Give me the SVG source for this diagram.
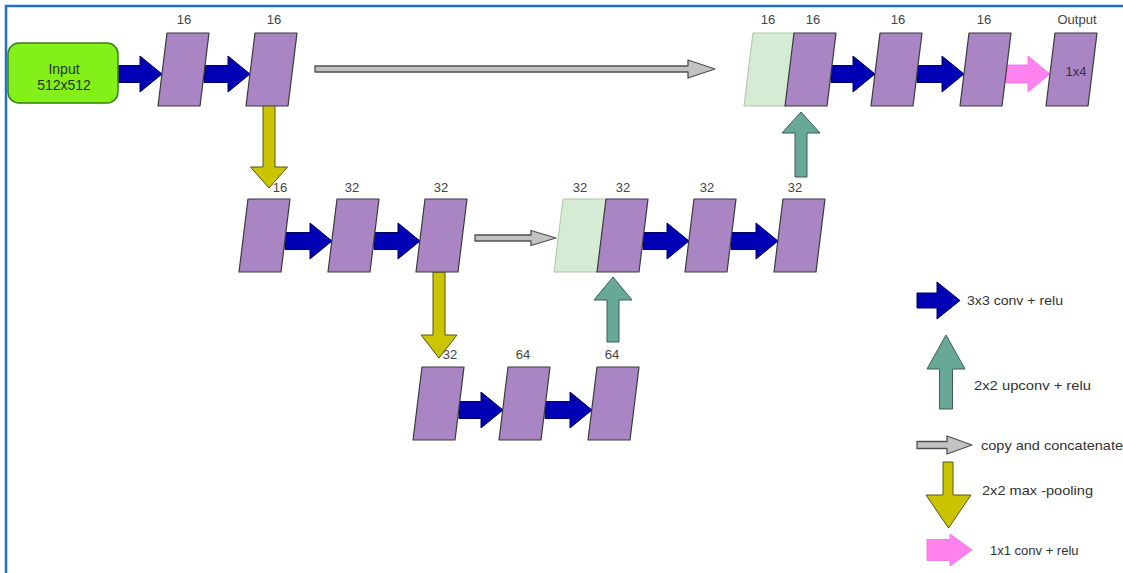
<svg xmlns="http://www.w3.org/2000/svg" width="1123" height="573" viewBox="0 0 1123 573">
  <style>
    text { font-family: "Liberation Sans", Arial, sans-serif; }
    .blk { fill: #a985c4; stroke: #3a3a3a; stroke-width: 1.2; stroke-linejoin: round; }
    .cat { fill: #d6ebd3; stroke: #a9c9a3; stroke-width: 1; }
    .lbl { font-size: 13px; fill: #444; text-anchor: middle; }
    .leg { font-size: 13px; fill: #333; }
    .conv { fill: #0000b4; stroke: #00005e; stroke-width: 1; stroke-linejoin: round; }
    .copy { fill: #c2c2c2; stroke: #505050; stroke-width: 1.3; stroke-linejoin: round; }
    .pool { fill: #cbc400; stroke: #55550a; stroke-width: 1; stroke-linejoin: round; }
    .up { fill: #68a898; stroke: #3c5e57; stroke-width: 1; stroke-linejoin: round; }
    .fin { fill: #ff82ee; stroke: #f070e0; stroke-width: 0.8; }
  </style>

  <rect x="0" y="0" width="1123" height="573" fill="#ffffff"/>
  <!-- frame -->
  <path d="M6,573 V6 H1123" fill="none" stroke="#2272c3" stroke-width="2.5"/>

  <!-- connectors -->
  <g id="connectors">
    <!-- 3x3 conv + relu, level 1 -->
    <polygon class="conv" points="118,65.5 140,65.5 140,56 162,74 140,92 140,82.5 118,82.5"/>
    <polygon class="conv" points="204,65.5 228,65.5 228,56 250,74 228,92 228,82.5 204,82.5"/>
    <polygon class="conv" points="831,65.5 853,65.5 853,56 875,74 853,92 853,82.5 831,82.5"/>
    <polygon class="conv" points="917,65.5 942,65.5 942,56 964,74 942,92 942,82.5 917,82.5"/>
    <!-- 1x1 conv to output -->
    <polygon class="fin" points="1006,65 1028,65 1028,56 1050,74 1028,92 1028,83 1006,83"/>
    <!-- 3x3 conv + relu, level 2 -->
    <polygon class="conv" points="285,232.5 310,232.5 310,223 332,241 310,259 310,249.5 285,249.5"/>
    <polygon class="conv" points="374,232.5 398,232.5 398,223 420,241 398,259 398,249.5 374,249.5"/>
    <polygon class="conv" points="643,232.5 667,232.5 667,223 689,241 667,259 667,249.5 643,249.5"/>
    <polygon class="conv" points="731,232.5 756,232.5 756,223 778,241 756,259 756,249.5 731,249.5"/>
    <!-- 3x3 conv + relu, level 3 -->
    <polygon class="conv" points="459,401.5 481,401.5 481,392 503,410 481,428 481,418.5 459,418.5"/>
    <polygon class="conv" points="545,401.5 570,401.5 570,392 592,410 570,428 570,418.5 545,418.5"/>
    <!-- skip connections -->
    <polygon class="copy" points="315,66 688,66 688,60 715,69 688,78 688,72 315,72"/>
    <polygon class="copy" points="475,235 531,235 531,230.5 556,238 531,245.5 531,241 475,241"/>
    <!-- max pooling -->
    <polygon class="pool" points="263,105 275,105 275,167 287.5,167 269,188 250.5,167 263,167"/>
    <polygon class="pool" points="433,272 445,272 445,335 457,335 439,358 421,335 433,335"/>
    <!-- up-convolutions -->
    <polygon class="up" points="795,177 807,177 807,133 820,133 801,112 782,133 795,133"/>
    <polygon class="up" points="607,342 619,342 619,300 632,300 613,277 594,300 607,300"/>
  </g>

  <!-- level 1 -->
  <g id="input">
    <rect x="8" y="43" width="110" height="60" rx="11" fill="#84f01a" stroke="#3b7a1c" stroke-width="1.5"/>
    <text x="64" y="74" font-size="14" fill="#26301c" text-anchor="middle">Input</text>
    <text x="64" y="90" font-size="14" fill="#26301c" text-anchor="middle">512x512</text>
  </g>
  <g id="enc1a">
    <polygon class="blk" points="167,33 209,33 200,106 158,106"/>
    <text class="lbl" x="184" y="24">16</text>
  </g>
  <g id="enc1b">
    <polygon class="blk" points="255,33 297,33 288,106 246,106"/>
    <text class="lbl" x="274" y="24">16</text>
  </g>
  <g id="dec1cat">
    <polygon class="cat" points="753,33 795,33 786,106 744,106"/>
    <polygon class="blk" points="794,33 836,33 827,106 785,106"/>
    <text class="lbl" x="768" y="24">16</text>
    <text class="lbl" x="813" y="24">16</text>
  </g>
  <g id="dec1a">
    <polygon class="blk" points="880,33 922,33 913,106 871,106"/>
    <text class="lbl" x="898" y="24">16</text>
  </g>
  <g id="dec1b">
    <polygon class="blk" points="969,33 1011,33 1002,106 960,106"/>
    <text class="lbl" x="984" y="24">16</text>
  </g>
  <g id="output">
    <polygon class="blk" points="1055,33 1097,33 1088,106 1046,106"/>
    <text class="lbl" x="1077" y="24">Output</text>
    <text x="1076" y="76" font-size="13" fill="#3a2a48" text-anchor="middle">1x4</text>
  </g>

  <!-- level 2 -->
  <g id="enc2a">
    <polygon class="blk" points="248,199 290,199 281,272 239,272"/>
    <text class="lbl" x="280" y="192">16</text>
  </g>
  <g id="enc2b">
    <polygon class="blk" points="337,199 379,199 370,272 328,272"/>
    <text class="lbl" x="352" y="192">32</text>
  </g>
  <g id="enc2c">
    <polygon class="blk" points="425,199 467,199 458,272 416,272"/>
    <text class="lbl" x="441" y="192">32</text>
  </g>
  <g id="dec2cat">
    <polygon class="cat" points="563,199 607,199 598,272 554,272"/>
    <polygon class="blk" points="606,199 648,199 639,272 597,272"/>
    <text class="lbl" x="580" y="192">32</text>
    <text class="lbl" x="623" y="192">32</text>
  </g>
  <g id="dec2a">
    <polygon class="blk" points="694,199 736,199 727,272 685,272"/>
    <text class="lbl" x="707" y="192">32</text>
  </g>
  <g id="dec2b">
    <polygon class="blk" points="783,199 825,199 816,272 774,272"/>
    <text class="lbl" x="795" y="192">32</text>
  </g>

  <!-- level 3 -->
  <g id="enc3a">
    <polygon class="blk" points="422,367 464,367 455,440 413,440"/>
    <text class="lbl" x="450" y="359">32</text>
  </g>
  <g id="enc3b">
    <polygon class="blk" points="508,367 550,367 541,440 499,440"/>
    <text class="lbl" x="523" y="359">64</text>
  </g>
  <g id="enc3c">
    <polygon class="blk" points="597,367 639,367 630,440 588,440"/>
    <text class="lbl" x="612" y="359">64</text>
  </g>

  <!-- legend -->
  <g id="legend">
    <polygon class="conv" points="917,293 937,293 937,282 960,300.5 937,319 937,308 917,308"/>
    <text class="leg" x="967" y="305" textLength="96" lengthAdjust="spacingAndGlyphs">3x3 conv + relu</text>
    <polygon class="up" points="939.5,409 952.5,409 952.5,369 965,369 946,335 927,369 939.5,369"/>
    <text class="leg" x="974" y="390" textLength="117" lengthAdjust="spacingAndGlyphs">2x2 upconv + relu</text>
    <polygon class="copy" points="917,441.5 947,441.5 947,436 972,445 947,454 947,448.5 917,448.5"/>
    <text class="leg" x="981" y="450" textLength="142" lengthAdjust="spacingAndGlyphs">copy and concatenate</text>
    <polygon class="pool" points="943,462 953,462 953,495 971,495 948.5,528 926,495 943,495"/>
    <text class="leg" x="982" y="495" textLength="111" lengthAdjust="spacingAndGlyphs">2x2 max -pooling</text>
    <polygon class="fin" points="927,539.5 950,539.5 950,534 972,550 950,566 950,560.5 927,560.5"/>
    <text class="leg" x="990" y="555">1x1 conv + relu</text>
  </g>
</svg>
